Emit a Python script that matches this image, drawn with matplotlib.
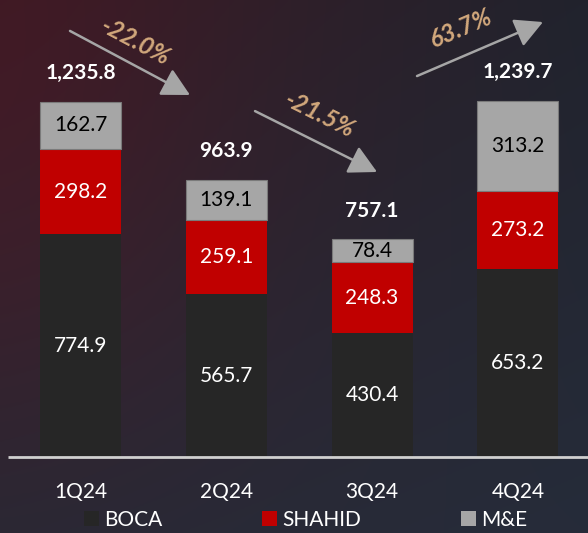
import numpy as np
import matplotlib
matplotlib.use("Agg")
import matplotlib.pyplot as plt
from matplotlib.patches import Patch, FancyArrowPatch

# ---------------- data ----------------
quarters = ["1Q24", "2Q24", "3Q24", "4Q24"]
boca = [774.9, 565.7, 430.4, 653.2]
shahid = [298.2, 259.1, 248.3, 273.2]
me = [162.7, 139.1, 78.4, 313.2]
totals = [1235.8, 963.9, 757.1, 1239.7]
changes = ["-22.0%", "-21.5%", "63.7%"]
series_names = ["BOCA", "SHAHID", "M&E"]

# ---------------- style ----------------
plt.rcParams['font.family'] = ['Lato', 'DejaVu Sans']
C_BOCA = "#262626"
C_SHAHID = "#C00000"
C_ME = "#A6A6A6"
C_PCT = "#D2A87C"
C_ARROW = "#A6A6A6"

W, H = 588, 533
fig = plt.figure(figsize=(W / 100, H / 100), dpi=100)

# background gradient
bg = fig.add_axes([0, 0, 1, 1], zorder=-10)
yy, xx = np.mgrid[0:1:200j, 0:1:220j]
tl = np.array([58, 28, 38]) / 255
tr = np.array([33, 35, 45]) / 255
bl = np.array([42, 40, 52]) / 255
br = np.array([38, 44, 58]) / 255
img = ((1 - xx)[..., None] * (1 - yy)[..., None] * tl + xx[..., None] * (1 - yy)[..., None] * tr
       + (1 - xx)[..., None] * yy[..., None] * bl + xx[..., None] * yy[..., None] * br)
glow = np.exp(-(((xx - 0.05) / 0.35) ** 2 + ((yy - 0.3) / 0.5) ** 2))
img = img + glow[..., None] * (np.array([10, -3, -2]) / 255)
bg.imshow(np.clip(img, 0, 1), extent=[0, 1, 0, 1], aspect='auto', origin='upper')
bg.set_axis_off()

# main axes covering whole figure, mapped so that layout matches
ax = fig.add_axes([0, 0, 1, 1])
ax.set_facecolor('none')
px_per_unit = 0.2873
base_px = 457
x0_px, dx_px = 80.5, 145.8
ax.set_ylim(-(H - base_px) / px_per_unit, base_px / px_per_unit)
ax.set_xlim(-x0_px / dx_px, (W - x0_px) / dx_px)
ax.set_axis_off()

x = np.arange(len(quarters))
bw = 81 / dx_px
ax.bar(x, boca, bw, color=C_BOCA, zorder=3)
ax.bar(x, shahid, bw, bottom=boca, color=C_SHAHID, zorder=3)
bottom3 = np.array(boca) + np.array(shahid)
ax.bar(x, me, bw, bottom=bottom3, color=C_ME, edgecolor="#7a7a7a", linewidth=0.8, zorder=3)

fs = 15
for i in range(len(quarters)):
    ax.text(x[i], boca[i] / 2, f"{boca[i]:.1f}", ha='center', va='center', color='white', fontsize=fs, zorder=5)
    ax.text(x[i], boca[i] + shahid[i] / 2, f"{shahid[i]:.1f}", ha='center', va='center', color='white', fontsize=fs, zorder=5)
    ax.text(x[i], bottom3[i] + me[i] / 2, f"{me[i]:.1f}", ha='center', va='center', color='black', fontsize=fs, zorder=5)
    ax.text(x[i], totals[i] + 100, f"{totals[i]:,.1f}", ha='center', va='center', color='white',
            fontsize=fs, fontweight='bold', zorder=5)
    ax.text(x[i], -122, quarters[i], ha='center', va='center', color='white', fontsize=fs, zorder=5)

# baseline
ax.plot([ax.get_xlim()[0] + 8 / dx_px, ax.get_xlim()[1]], [-1, -1], color="#d0d0d0", lw=2, zorder=4,
        solid_capstyle='butt')

# change arrows
arrows = [
    ((-0.072, 1483), (0.751, 1260)),
    ((1.197, 1204), (2.034, 992)),
    ((2.308, 1326), (3.172, 1514)),
]
label_pos = [(0.374, 1444), (1.643, 1190), (2.609, 1493)]
label_rot = [-28, -26.5, 23]
for (s, e), lp, rot, txt in zip(arrows, label_pos, label_rot, changes):
    arr = FancyArrowPatch(s, e, arrowstyle='-|>,head_length=0.95,head_width=0.5', mutation_scale=18,
                          color=C_ARROW, lw=1.8, shrinkA=0, shrinkB=0, zorder=6)
    ax.add_patch(arr)
    ax.text(lp[0], lp[1], txt, ha='center', va='center', rotation=rot, rotation_mode='anchor',
            color=C_PCT, fontsize=17.5, style='italic', fontweight='bold', zorder=6)

# legend
handles = [Patch(facecolor=c, edgecolor='none') for c in (C_BOCA, C_SHAHID, C_ME)]
fig.legend(handles, series_names, loc='center', bbox_to_anchor=(0.52, 1 - 520 / H), ncol=3,
           frameon=False, fontsize=fs, handlelength=0.7, handleheight=0.7, handletextpad=0.25,
           columnspacing=4.8, labelcolor='white', borderaxespad=0)

fig.savefig("out.png", dpi=100)
